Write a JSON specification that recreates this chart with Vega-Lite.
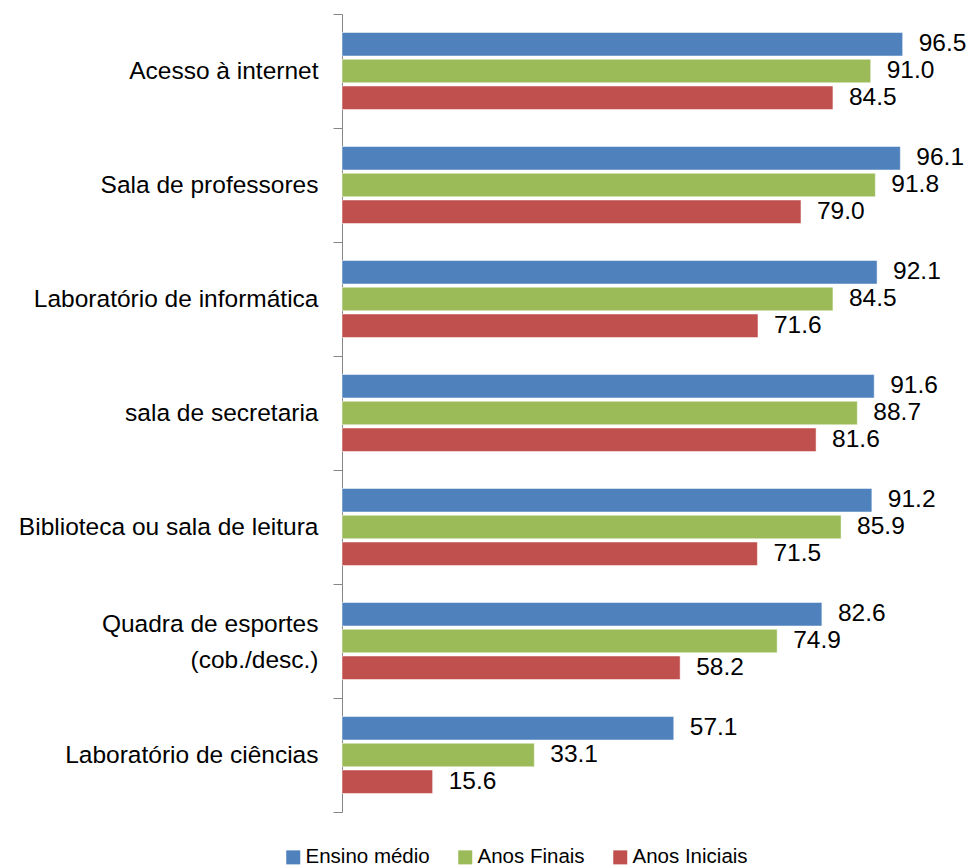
{
  "$schema": "https://vega.github.io/schema/vega-lite/v6.json",
  "width": 581,
  "height": 798,
  "autosize": "none",
  "padding": {"left": 342, "top": 14, "right": 46, "bottom": 56},
  "background": "white",
  "config": {
    "view": {"stroke": null},
    "font": "Liberation Sans",
    "text": {"font": "Liberation Sans"}
  },
  "data": {
    "values": [
      {"categoria": "Acesso à internet", "serie": "Ensino médio", "valor": 96.5},
      {"categoria": "Acesso à internet", "serie": "Anos Finais", "valor": 91.0},
      {"categoria": "Acesso à internet", "serie": "Anos Iniciais", "valor": 84.5},
      {"categoria": "Sala de professores", "serie": "Ensino médio", "valor": 96.1},
      {"categoria": "Sala de professores", "serie": "Anos Finais", "valor": 91.8},
      {"categoria": "Sala de professores", "serie": "Anos Iniciais", "valor": 79.0},
      {"categoria": "Laboratório de informática", "serie": "Ensino médio", "valor": 92.1},
      {"categoria": "Laboratório de informática", "serie": "Anos Finais", "valor": 84.5},
      {"categoria": "Laboratório de informática", "serie": "Anos Iniciais", "valor": 71.6},
      {"categoria": "sala de secretaria", "serie": "Ensino médio", "valor": 91.6},
      {"categoria": "sala de secretaria", "serie": "Anos Finais", "valor": 88.7},
      {"categoria": "sala de secretaria", "serie": "Anos Iniciais", "valor": 81.6},
      {"categoria": "Biblioteca ou sala de leitura", "serie": "Ensino médio", "valor": 91.2},
      {"categoria": "Biblioteca ou sala de leitura", "serie": "Anos Finais", "valor": 85.9},
      {"categoria": "Biblioteca ou sala de leitura", "serie": "Anos Iniciais", "valor": 71.5},
      {"categoria": "Quadra de esportes (cob./desc.)", "serie": "Ensino médio", "valor": 82.6},
      {"categoria": "Quadra de esportes (cob./desc.)", "serie": "Anos Finais", "valor": 74.9},
      {"categoria": "Quadra de esportes (cob./desc.)", "serie": "Anos Iniciais", "valor": 58.2},
      {"categoria": "Laboratório de ciências", "serie": "Ensino médio", "valor": 57.1},
      {"categoria": "Laboratório de ciências", "serie": "Anos Finais", "valor": 33.1},
      {"categoria": "Laboratório de ciências", "serie": "Anos Iniciais", "valor": 15.6}
    ]
  },
  "encoding": {
    "y": {
      "field": "categoria",
      "type": "nominal",
      "sort": null,
      "scale": {"paddingInner": 0, "paddingOuter": 0},
      "axis": {
        "title": null,
        "tickBand": "extent",
        "domainColor": "#868686",
        "tickColor": "#868686",
        "tickSize": 9,
        "labelPadding": 15,
        "labelFontSize": 24.5,
        "labelColor": "#000000",
        "labelFont": "Liberation Sans",
        "labelLineHeight": 36,
        "labelLimit": 400,
        "labelOffset": {"condition": {"test": "datum.value == 'Quadra de esportes (cob./desc.)'", "value": -17}, "value": 0},
        "labelExpr": "datum.label == 'Quadra de esportes (cob./desc.)' ? ['Quadra de esportes', '(cob./desc.)'] : datum.label"
      }
    },
    "yOffset": {
      "field": "serie",
      "type": "nominal",
      "sort": ["Ensino médio", "Anos Finais", "Anos Iniciais"],
      "scale": {"paddingInner": 0.12, "paddingOuter": 0.69}
    },
    "x": {
      "field": "valor",
      "type": "quantitative",
      "scale": {"domain": [0, 100], "nice": false},
      "axis": null
    }
  },
  "layer": [
    {
      "mark": {"type": "bar", "stroke": "white", "strokeWidth": 0.5},
      "encoding": {
        "color": {
          "field": "serie",
          "type": "nominal",
          "sort": ["Ensino médio", "Anos Finais", "Anos Iniciais"],
          "scale": {
            "domain": ["Ensino médio", "Anos Finais", "Anos Iniciais"],
            "range": ["#4F81BD", "#9BBB59", "#C0504D"]
          },
          "legend": {
            "title": null,
            "orient": "none",
            "direction": "horizontal",
            "legendX": -59,
            "legendY": 833,
            "symbolType": "square",
            "symbolSize": 196,
            "symbolStrokeWidth": 0,
            "labelFontSize": 20.5,
            "labelFont": "Liberation Sans",
            "labelColor": "#000000",
            "labelOffset": 2,
            "columnPadding": 25
          }
        }
      }
    },
    {
      "mark": {"type": "text", "align": "left", "baseline": "middle", "dx": 16, "fontSize": 24.5, "font": "Liberation Sans", "color": "#000000"},
      "encoding": {
        "text": {"field": "valor", "type": "quantitative", "format": ".1f"}
      }
    }
  ]
}
